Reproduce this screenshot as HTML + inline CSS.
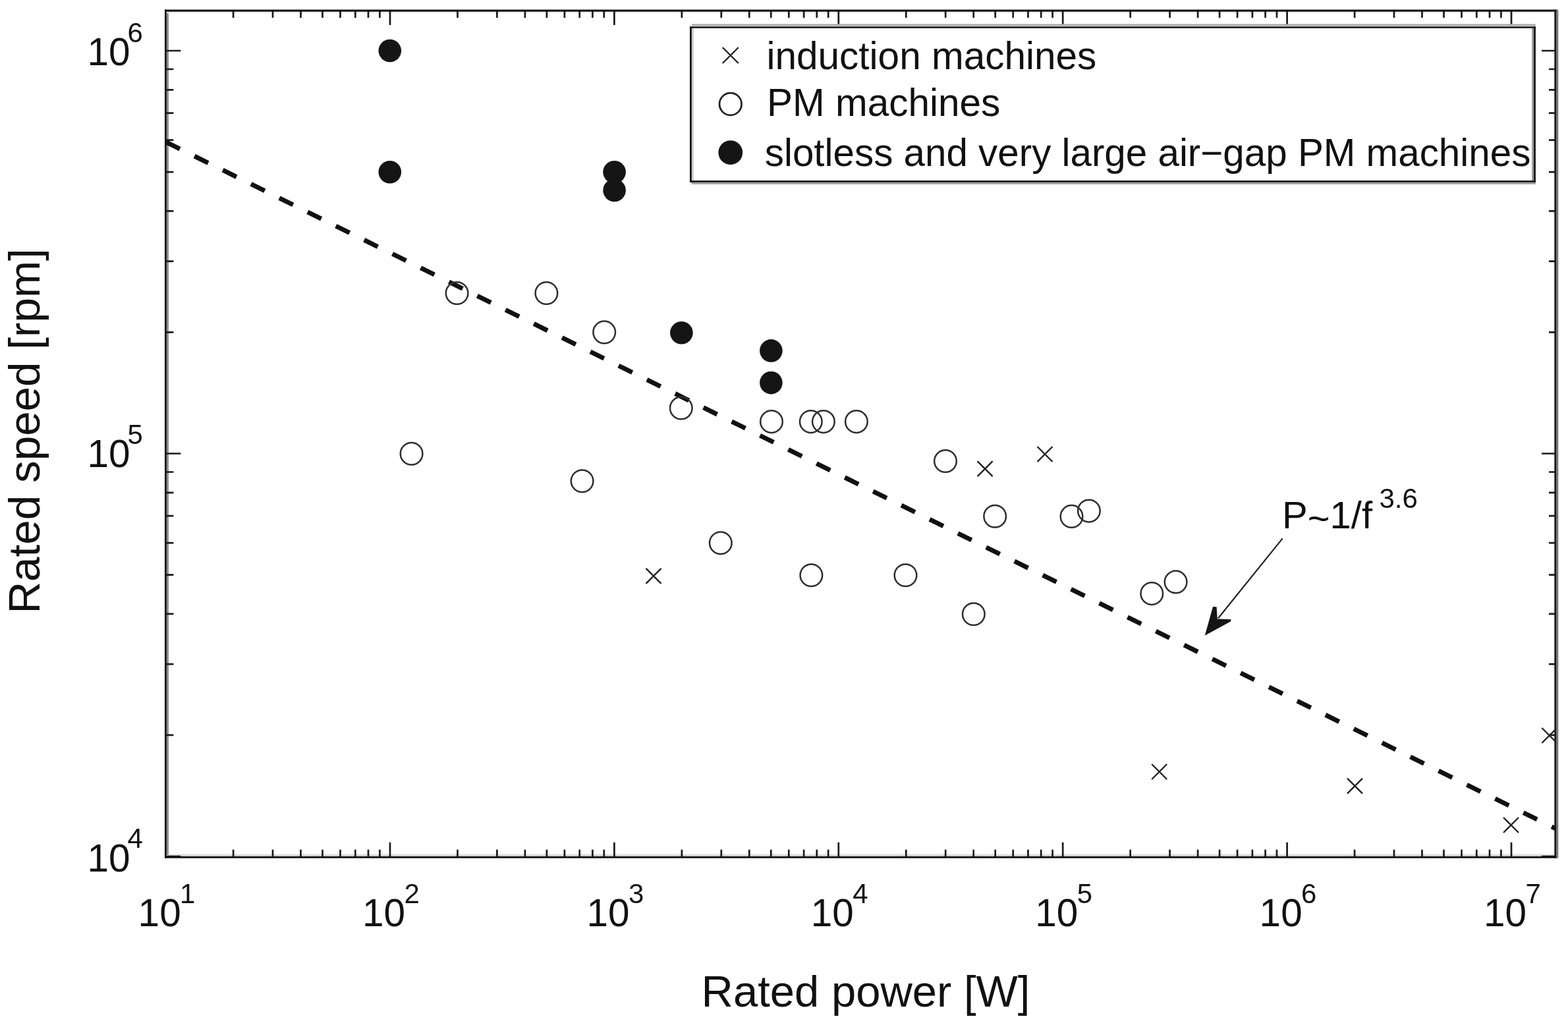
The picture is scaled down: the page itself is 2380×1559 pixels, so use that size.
<!DOCTYPE html><html><head><meta charset="utf-8"><title>Rated speed vs rated power</title><style>html,body{margin:0;padding:0;background:#fff;overflow:hidden}svg{display:block}text{font-family:'Liberation Sans',Arial,Helvetica,sans-serif;fill:#111}</style></head><body>
<svg width="2380" height="1559" viewBox="0 0 2380 1559">
<rect x="0" y="0" width="2380" height="1559" fill="#fff"/>
<defs><clipPath id="plot"><rect x="250" y="14.6" width="2112.3" height="1288"/></clipPath></defs>
<g><rect x="252.8" y="17.7" width="3.1" height="1282.3" fill="#8a8a8a"/><rect x="252.8" y="1297.2" width="2106.5" height="2.8" fill="#cfcfcf"/><rect x="2362.3" y="14.6" width="3.0" height="1288.1" fill="#777"/><rect x="252.8" y="17.7" width="2106.5" height="2.2" fill="#ececec"/></g>
<path d="M354.1 1300.8v-11M354.1 16.0v11M414.0 1300.8v-11M414.0 16.0v11M456.5 1300.8v-11M456.5 16.0v11M489.5 1300.8v-11M489.5 16.0v11M516.5 1300.8v-11M516.5 16.0v11M539.3 1300.8v-11M539.3 16.0v11M559.0 1300.8v-11M559.0 16.0v11M576.4 1300.8v-11M576.4 16.0v11M592.0 1300.8v-22M592.0 16.0v22M694.5 1300.8v-11M694.5 16.0v11M754.4 1300.8v-11M754.4 16.0v11M796.9 1300.8v-11M796.9 16.0v11M829.9 1300.8v-11M829.9 16.0v11M856.9 1300.8v-11M856.9 16.0v11M879.7 1300.8v-11M879.7 16.0v11M899.4 1300.8v-11M899.4 16.0v11M916.8 1300.8v-11M916.8 16.0v11M932.4 1300.8v-22M932.4 16.0v22M1034.9 1300.8v-11M1034.9 16.0v11M1094.8 1300.8v-11M1094.8 16.0v11M1137.3 1300.8v-11M1137.3 16.0v11M1170.3 1300.8v-11M1170.3 16.0v11M1197.3 1300.8v-11M1197.3 16.0v11M1220.1 1300.8v-11M1220.1 16.0v11M1239.8 1300.8v-11M1239.8 16.0v11M1257.2 1300.8v-11M1257.2 16.0v11M1272.8 1300.8v-22M1272.8 16.0v22M1375.3 1300.8v-11M1375.3 16.0v11M1435.2 1300.8v-11M1435.2 16.0v11M1477.7 1300.8v-11M1477.7 16.0v11M1510.7 1300.8v-11M1510.7 16.0v11M1537.7 1300.8v-11M1537.7 16.0v11M1560.5 1300.8v-11M1560.5 16.0v11M1580.2 1300.8v-11M1580.2 16.0v11M1597.6 1300.8v-11M1597.6 16.0v11M1613.2 1300.8v-22M1613.2 16.0v22M1715.7 1300.8v-11M1715.7 16.0v11M1775.6 1300.8v-11M1775.6 16.0v11M1818.1 1300.8v-11M1818.1 16.0v11M1851.1 1300.8v-11M1851.1 16.0v11M1878.1 1300.8v-11M1878.1 16.0v11M1900.9 1300.8v-11M1900.9 16.0v11M1920.6 1300.8v-11M1920.6 16.0v11M1938.0 1300.8v-11M1938.0 16.0v11M1953.6 1300.8v-22M1953.6 16.0v22M2056.1 1300.8v-11M2056.1 16.0v11M2116.0 1300.8v-11M2116.0 16.0v11M2158.5 1300.8v-11M2158.5 16.0v11M2191.5 1300.8v-11M2191.5 16.0v11M2218.5 1300.8v-11M2218.5 16.0v11M2241.3 1300.8v-11M2241.3 16.0v11M2261.0 1300.8v-11M2261.0 16.0v11M2278.4 1300.8v-11M2278.4 16.0v11M2294.0 1300.8v-22M2294.0 16.0v22M252.3 1300.0h22M2362.0 1300.0h-22M252.3 1115.9h11M2362.0 1115.9h-11M252.3 1008.2h11M2362.0 1008.2h-11M252.3 931.8h11M2362.0 931.8h-11M252.3 872.6h11M2362.0 872.6h-11M252.3 824.2h11M2362.0 824.2h-11M252.3 783.2h11M2362.0 783.2h-11M252.3 747.8h11M2362.0 747.8h-11M252.3 716.5h11M2362.0 716.5h-11M252.3 688.5h22M2362.0 688.5h-22M252.3 504.4h11M2362.0 504.4h-11M252.3 396.7h11M2362.0 396.7h-11M252.3 320.3h11M2362.0 320.3h-11M252.3 261.1h11M2362.0 261.1h-11M252.3 212.7h11M2362.0 212.7h-11M252.3 171.7h11M2362.0 171.7h-11M252.3 136.3h11M2362.0 136.3h-11M252.3 105.0h11M2362.0 105.0h-11M252.3 77.0h22M2362.0 77.0h-22" stroke="#1a1a1a" stroke-width="2.7" fill="none"/>
<g clip-path="url(#plot)"><line x1="252.3" y1="215.8" x2="2362.3" y2="1258.4" stroke="#111" stroke-width="7" stroke-dasharray="23.2 24.67"/></g>
<g clip-path="url(#plot)"><circle cx="591.8" cy="77" r="17.3" fill="#151515"/><circle cx="591.8" cy="261.2" r="17.3" fill="#151515"/><circle cx="932.6" cy="261.2" r="17.3" fill="#151515"/><circle cx="932.6" cy="288.9" r="17.3" fill="#151515"/><circle cx="1034.4" cy="505.2" r="17.3" fill="#151515"/><circle cx="1170.4" cy="532.4" r="17.3" fill="#151515"/><circle cx="1170.4" cy="581.1" r="17.3" fill="#151515"/><circle cx="693.6" cy="445" r="16.8" fill="none" stroke="#2e2e2e" stroke-width="2.5"/><circle cx="829.4" cy="445" r="16.8" fill="none" stroke="#2e2e2e" stroke-width="2.5"/><circle cx="917.2" cy="504.4" r="16.8" fill="none" stroke="#2e2e2e" stroke-width="2.5"/><circle cx="1033.8" cy="619.4" r="16.8" fill="none" stroke="#2e2e2e" stroke-width="2.5"/><circle cx="624.6" cy="688.7" r="16.8" fill="none" stroke="#2e2e2e" stroke-width="2.5"/><circle cx="883.6" cy="730.2" r="16.8" fill="none" stroke="#2e2e2e" stroke-width="2.5"/><circle cx="1171" cy="640.1" r="16.8" fill="none" stroke="#2e2e2e" stroke-width="2.5"/><circle cx="1230.8" cy="640.1" r="16.8" fill="none" stroke="#2e2e2e" stroke-width="2.5"/><circle cx="1249.9" cy="640.1" r="16.8" fill="none" stroke="#2e2e2e" stroke-width="2.5"/><circle cx="1299.9" cy="640.1" r="16.8" fill="none" stroke="#2e2e2e" stroke-width="2.5"/><circle cx="1435" cy="700" r="16.8" fill="none" stroke="#2e2e2e" stroke-width="2.5"/><circle cx="1510.2" cy="783.8" r="16.8" fill="none" stroke="#2e2e2e" stroke-width="2.5"/><circle cx="1231.4" cy="873.2" r="16.8" fill="none" stroke="#2e2e2e" stroke-width="2.5"/><circle cx="1374.5" cy="873.2" r="16.8" fill="none" stroke="#2e2e2e" stroke-width="2.5"/><circle cx="1477.8" cy="932.2" r="16.8" fill="none" stroke="#2e2e2e" stroke-width="2.5"/><circle cx="1093.8" cy="824.3" r="16.8" fill="none" stroke="#2e2e2e" stroke-width="2.5"/><circle cx="1626.5" cy="783.9" r="16.8" fill="none" stroke="#2e2e2e" stroke-width="2.5"/><circle cx="1652.9" cy="775.6" r="16.8" fill="none" stroke="#2e2e2e" stroke-width="2.5"/><circle cx="1748.3" cy="901.1" r="16.8" fill="none" stroke="#2e2e2e" stroke-width="2.5"/><circle cx="1784.6" cy="883.4" r="16.8" fill="none" stroke="#2e2e2e" stroke-width="2.5"/><path d="M980.5 862.8L1003.5 885.8M980.5 885.8L1003.5 862.8M1483.6 700.2L1506.6 723.2M1483.6 723.2L1506.6 700.2M1574.5 678.0L1597.5 701.0M1574.5 701.0L1597.5 678.0M1748.2 1160.0L1771.2 1183.0M1748.2 1183.0L1771.2 1160.0M2045.0 1181.7L2068.0 1204.7M2045.0 1204.7L2068.0 1181.7M2282.0 1241.0L2305.0 1264.0M2282.0 1264.0L2305.0 1241.0M2340.3 1105.0L2363.3 1128.0M2340.3 1128.0L2363.3 1105.0" stroke="#222" stroke-width="2.4" fill="none"/></g>
<g><rect x="250" y="14.6" width="2112.3" height="3.1" fill="#0d0d0d"/><rect x="250" y="1300" width="2112.3" height="2.7" fill="#0d0d0d"/><rect x="250" y="14.6" width="2.8" height="1288.1" fill="#111"/><rect x="2359.3" y="14.6" width="3.0" height="1288.1" fill="#1a1a1a"/></g>
<g><rect x="1047" y="40.3" width="1284" height="236.5" fill="#fff"/><rect x="1049.8" y="36.4" width="1281" height="3.2" fill="#acacac"/><rect x="1049.8" y="276.7" width="1281" height="3.0" fill="#9e9e9e"/><rect x="2325.2" y="42.7" width="2.9" height="231.3" fill="#999"/><rect x="1049.8" y="42.7" width="3.0" height="231.3" fill="#cccccc"/><rect x="1047" y="40.3" width="1284" height="2.5" fill="#111"/><rect x="1047" y="274.1" width="1284" height="2.6" fill="#0d0d0d"/><rect x="1047" y="40.3" width="2.8" height="236.4" fill="#0d0d0d"/><rect x="2328.1" y="40.3" width="2.8" height="236.4" fill="#151515"/></g>
<path d="M1096.8 72L1120.8 96M1096.8 96L1120.8 72" stroke="#222" stroke-width="2.4" fill="none"/>
<circle cx="1108.8" cy="158" r="16.8" fill="none" stroke="#222" stroke-width="2.8"/>
<circle cx="1108.8" cy="231.6" r="18.4" fill="#151515"/>
<text x="1163.5" y="104.9" font-size="58.5">induction machines</text>
<text x="1164" y="176.4" font-size="58.5">PM machines</text>
<text x="1160.8" y="251.9" font-size="58.5" textLength="1162.5" lengthAdjust="spacingAndGlyphs">slotless and very large air−gap PM machines</text>
<text x="209.6" y="1406" font-size="58.5">10</text><text x="273.1" y="1371" font-size="42">1</text>
<text x="550.0" y="1406" font-size="58.5">10</text><text x="613.5" y="1371" font-size="42">2</text>
<text x="890.4" y="1406" font-size="58.5">10</text><text x="953.9" y="1371" font-size="42">3</text>
<text x="1230.8" y="1406" font-size="58.5">10</text><text x="1294.3" y="1371" font-size="42">4</text>
<text x="1571.2" y="1406" font-size="58.5">10</text><text x="1634.7" y="1371" font-size="42">5</text>
<text x="1911.6" y="1406" font-size="58.5">10</text><text x="1975.1" y="1371" font-size="42">6</text>
<text x="2252.0" y="1406" font-size="58.5">10</text><text x="2315.5" y="1371" font-size="42">7</text>
<text x="132.5" y="98.8" font-size="58.5">10</text><text x="193.5" y="64" font-size="42">6</text>
<text x="132.5" y="708.7" font-size="58.5">10</text><text x="193.5" y="673.5" font-size="42">5</text>
<text x="132.5" y="1322.7" font-size="58.5">10</text><text x="193.5" y="1286.5" font-size="42">4</text>
<text x="1064.5" y="1527.5" font-size="67">Rated power [W]</text>
<text transform="translate(60 931.6) rotate(-90)" x="0" y="0" font-size="67.4">Rated speed [rpm]</text>
<text x="1946" y="802" font-size="58">P<tspan dy="5.4">~</tspan><tspan dy="-5.4">1/f</tspan></text><text x="2093.5" y="770.5" font-size="42">3.6</text>
<line x1="1946.7" y1="817.4" x2="1849" y2="938.5" stroke="#222" stroke-width="2.2"/>
<path d="M1828.8 964.8L1841 921L1846.6 921.3L1847.8 939.4L1868.6 940.2L1868.2 943.2Z" fill="#151515"/>
</svg></body></html>
